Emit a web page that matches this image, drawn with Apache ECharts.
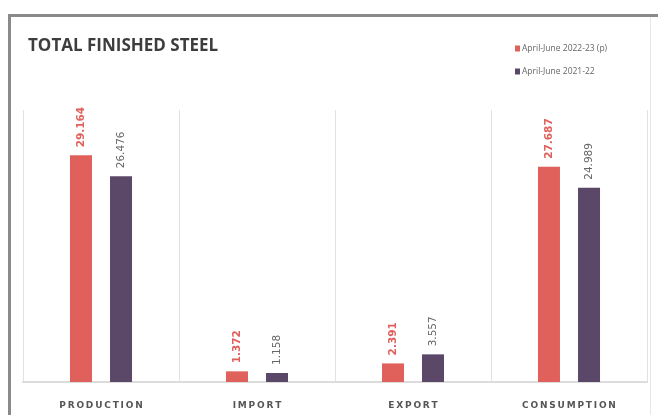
<!DOCTYPE html>
<html>
<head>
<meta charset="utf-8">
<script src="https://cdn.jsdelivr.net/npm/echarts@6/dist/echarts.min.js"></script>
<style>
  html, body { margin: 0; padding: 0; background: #ffffff; }
  #chart { width: 658px; height: 415px; }
</style>
</head>
<body>
<div id="chart"></div>
<script>
// Total finished steel, April-June comparison (million tonnes)
const categories = ['PRODUCTION', 'IMPORT', 'EXPORT', 'CONSUMPTION'];
const seriesNames = ['April-June 2022-23 (p)', 'April-June 2021-22'];
const current = [29.164, 1.372, 2.391, 27.687];
const previous = [26.476, 1.158, 3.557, 24.989];

const RED = '#e0605c';
const PURPLE = '#5b4868';

// spread letters out with thin spaces
const spaced = s => s.split('').join('\u2009');

const chart = echarts.init(document.getElementById('chart'), null, { renderer: 'canvas' });

const valueLabel = (color, weight) => ({
  show: true,
  position: 'top',
  rotate: 90,
  align: 'left',
  verticalAlign: 'middle',
  distance: 8,
  fontSize: 10.5,
  fontWeight: weight,
  color: color,
  fontFamily: 'DejaVu Sans',
  formatter: p => p.value.toFixed(3)
});

chart.setOption({
  backgroundColor: '#ffffff',
  animation: false,
  graphic: [
    // panel frame: top and left rules, faint right edge
    { type: 'rect', left: 8, top: 14, shape: { width: 660, height: 3 }, style: { fill: '#8a8a8a' } },
    { type: 'rect', left: 8, top: 14, shape: { width: 3, height: 420 }, style: { fill: '#8a8a8a' } },
    { type: 'rect', left: 650, top: 17, shape: { width: 1, height: 400 }, style: { fill: '#e6e6e6' } },
    {
      type: 'text', left: 28, top: 38,
      style: {
        text: 'TOTAL FINISHED STEEL',
        fill: '#3d3d3d',
        font: 'bold 17px "Open Sans", sans-serif'
      }
    }
  ],
  legend: {
    orient: 'vertical',
    left: 510,
    top: 39,
    itemWidth: 5,
    itemHeight: 6,
    itemGap: 14,
    icon: 'rect',
    textStyle: { fontSize: 8.5, color: '#666', fontFamily: 'Open Sans', padding: [0, 0, 0, -3] },
    data: seriesNames
  },
  grid: { left: 23, right: 11, top: 110, bottom: 33 },
  xAxis: {
    type: 'category',
    data: categories,
    axisLine: { lineStyle: { color: '#dcdcdc', width: 2 } },
    axisTick: { show: false },
    splitLine: { show: true, lineStyle: { color: '#e2e2e2', width: 1 } },
    axisLabel: {
      margin: 19,
      fontSize: 9,
      fontWeight: 'bold',
      color: '#555',
      fontFamily: 'DejaVu Sans',
      formatter: v => spaced(v)
    }
  },
  yAxis: {
    type: 'value',
    min: 0,
    max: 35,
    show: false,
    splitLine: { show: false }
  },
  series: [
    {
      name: seriesNames[0],
      type: 'bar',
      data: current,
      barWidth: 22,
      barGap: '82%',
      itemStyle: { color: RED },
      label: valueLabel(RED, 'bold')
    },
    {
      name: seriesNames[1],
      type: 'bar',
      data: previous,
      barWidth: 22,
      itemStyle: { color: PURPLE },
      label: valueLabel('#666', 'normal')
    }
  ]
});
</script>
</body>
</html>
